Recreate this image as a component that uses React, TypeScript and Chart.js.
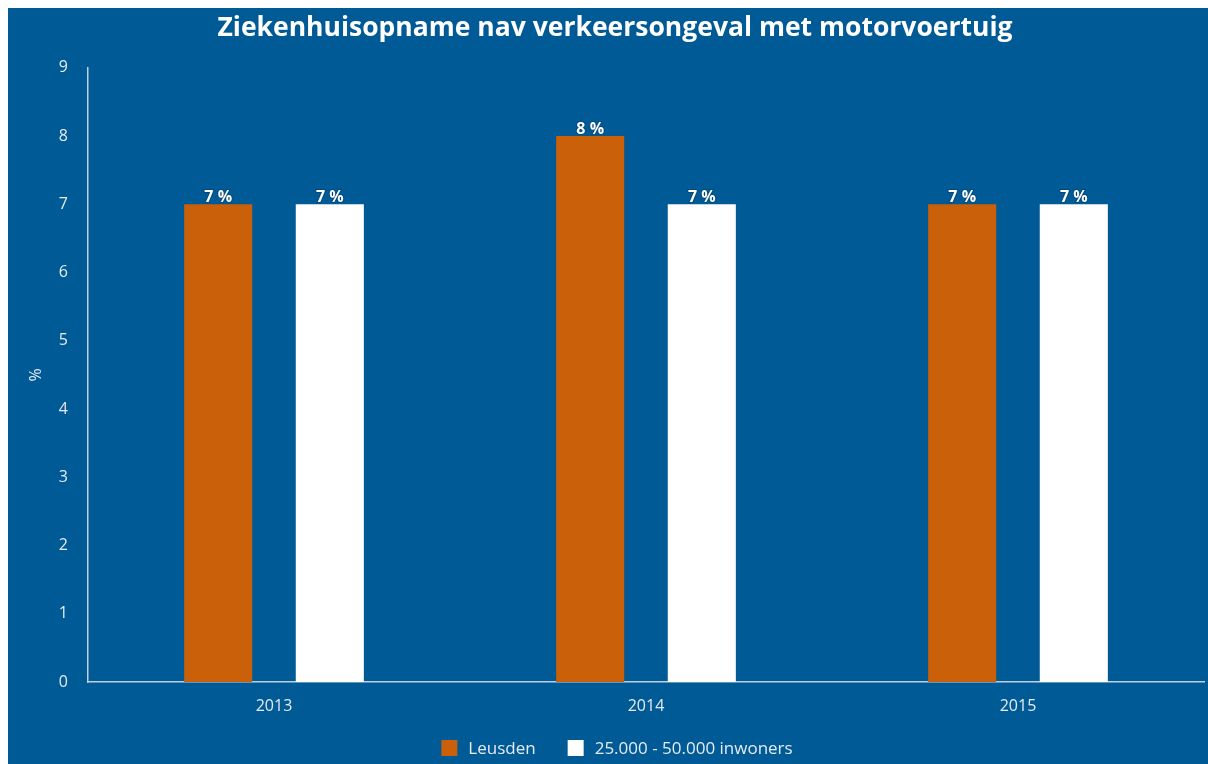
import React, { useEffect, useRef } from "react";
import { Chart, registerables } from "chart.js";

Chart.register(...registerables);

const categories = ["2013", "2014", "2015"];
const leusden = [7, 8, 7];
const gemeenten = [7, 7, 7];
const seriesNames = ["Leusden", "25.000 - 50.000 inwoners"];
const titleText = "Ziekenhuisopname nav verkeersongeval met motorvoertuig";
const yTicks = [0, 1, 2, 3, 4, 5, 6, 7, 8, 9];

const BG = "#005A96";
const ORANGE = "#CA600A";
const WHITE = "#FFFFFF";
const LABEL = "#E4EBF2";
const AXIS = "#BFD0E2";
const FONT = "'Open Sans', 'Noto Sans', sans-serif";

const bgPlugin = {
  id: "bgFill",
  beforeDraw(chart: any) {
    const { ctx, width, height } = chart;
    ctx.save();
    ctx.fillStyle = BG;
    ctx.fillRect(0, 0, width, height);
    ctx.restore();
  },
};

const valueLabels = {
  id: "valueLabels",
  afterDatasetsDraw(chart: any) {
    const { ctx } = chart;
    ctx.save();
    ctx.font = `bold 16px ${FONT}`;
    ctx.textAlign = "center";
    ctx.textBaseline = "bottom";
    chart.data.datasets.forEach((ds: any, di: number) => {
      const meta = chart.getDatasetMeta(di);
      meta.data.forEach((bar: any, i: number) => {
        const txt = `${ds.data[i]} %`;
        ctx.lineWidth = 2;
        ctx.strokeStyle = "rgba(0,40,80,0.3)";
        ctx.strokeText(txt, bar.x, bar.y + 1);
        ctx.fillStyle = WHITE;
        ctx.fillText(txt, bar.x, bar.y + 1);
      });
    });
    ctx.restore();
  },
};

const customLegend = {
  id: "customLegend",
  afterDraw(chart: any) {
    const { ctx, width } = chart;
    const box = 16;
    const boxGap = 11;
    const itemGap = 32;
    const cy = 740;
    ctx.save();
    ctx.font = `17px ${FONT}`;
    ctx.textBaseline = "middle";
    ctx.textAlign = "left";
    const items = chart.data.datasets.map((ds: any) => ({
      text: ds.label,
      color: ds.backgroundColor,
      w: ctx.measureText(ds.label).width,
    }));
    const total =
      items.reduce((s: number, it: any) => s + box + boxGap + it.w, 0) +
      itemGap * (items.length - 1);
    let x = 609 - total / 2;
    items.forEach((it: any) => {
      ctx.fillStyle = it.color;
      ctx.fillRect(x, cy - box / 2, box, box);
      ctx.fillStyle = LABEL;
      ctx.fillText(it.text, x + box + boxGap, cy + 1);
      x += box + boxGap + it.w + itemGap;
    });
    ctx.restore();
  },
};

export default function App() {
  const ref = useRef<HTMLCanvasElement | null>(null);
  useEffect(() => {
    if (!ref.current) return;
    const chart = new Chart(ref.current, {
      type: "bar",
      data: {
        labels: categories,
        datasets: [
          {
            label: seriesNames[0],
            data: leusden,
            backgroundColor: ORANGE,
            categoryPercentage: 0.6,
            barPercentage: 0.61,
          },
          {
            label: seriesNames[1],
            data: gemeenten,
            backgroundColor: WHITE,
            categoryPercentage: 0.6,
            barPercentage: 0.61,
          },
        ],
      },
      options: {
        animation: false,
        responsive: true,
        maintainAspectRatio: false,
        layout: { padding: { left: 18, right: 18, top: 0, bottom: 42 } },
        plugins: {
          tooltip: { enabled: false },
          legend: { display: false },
          title: {
            display: true,
            text: titleText,
            color: WHITE,
            font: { family: FONT, size: 26.5, weight: "bold" },
            padding: { top: 5, bottom: 23 },
          },
        },
        scales: {
          x: {
            grid: { display: false, drawTicks: false },
            border: { display: true, color: AXIS, width: 1.5 },
            ticks: {
              color: LABEL,
              font: { family: FONT, size: 16 },
              padding: 15,
            },
            afterFit(scale: any) {
              scale.height = 40;
            },
          },
          y: {
            min: 0,
            max: 9,
            grid: { display: false, drawTicks: false },
            border: { display: true, color: AXIS, width: 1.5 },
            afterBuildTicks(scale: any) {
              scale.ticks = yTicks.map((v) => ({ value: v }));
            },
            ticks: {
              color: LABEL,
              font: { family: FONT, size: 16 },
              padding: 20,
            },
            title: {
              display: true,
              text: "%",
              color: LABEL,
              font: { family: FONT, size: 16 },
              padding: { top: 1, bottom: 0 },
            },
            afterFit(scale: any) {
              scale.width = 62;
            },
          },
        },
      },
      plugins: [bgPlugin, valueLabels, customLegend],
    });
    return () => chart.destroy();
  }, []);
  return (
    <div style={{ position: "fixed", left: 8, top: 8, width: 1214, height: 756 }}>
      <canvas ref={ref} />
    </div>
  );
}
